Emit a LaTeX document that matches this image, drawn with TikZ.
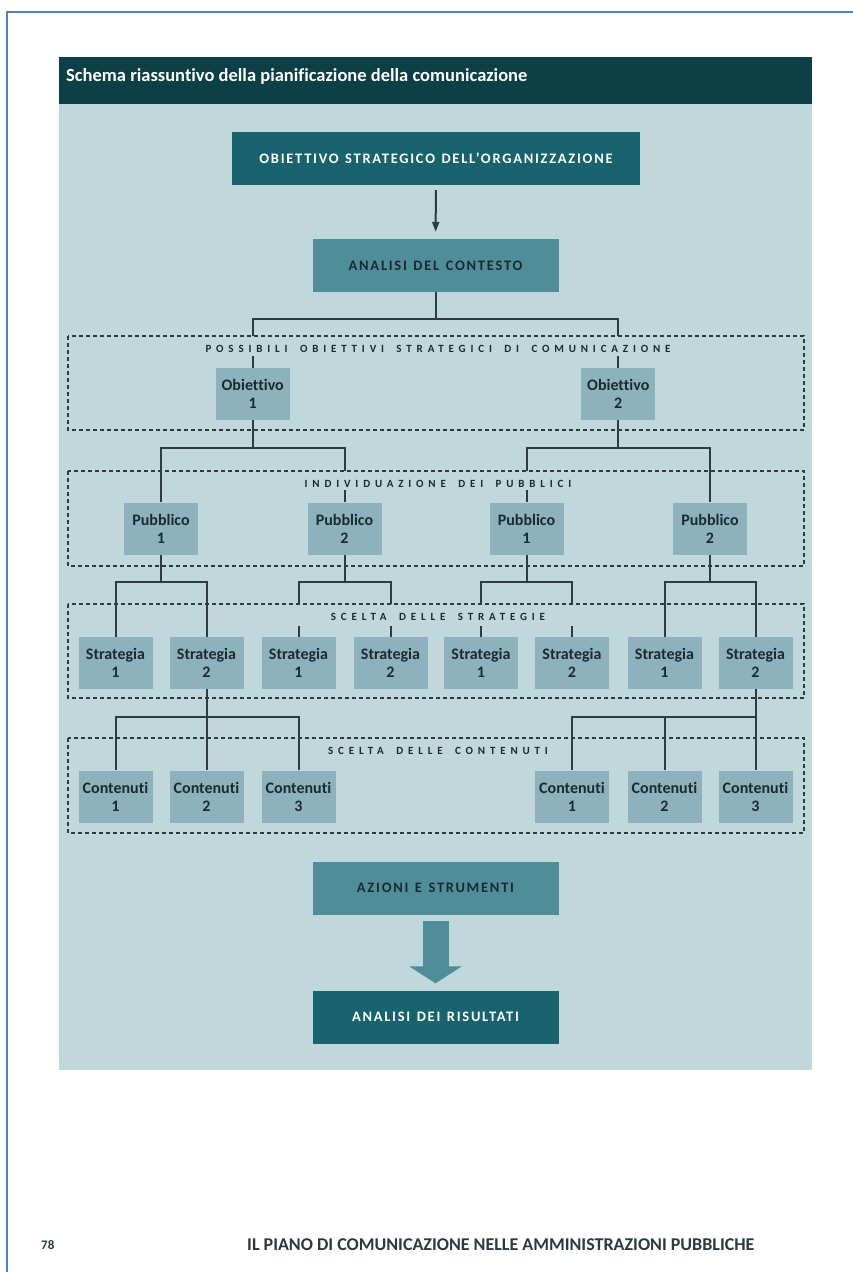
\documentclass[tikz,border=0pt]{standalone}
\usepackage{fontspec}
\setmainfont{Carlito}[Ligatures=NoCommon]
\newfontfamily\boxspaced[LetterSpace=12,WordSpace=1.3]{Carlito}
\newfontfamily\grpspaced[LetterSpace=44,WordSpace=1.7]{Carlito}
\usetikzlibrary{arrows.meta}
\definecolor{framec}{HTML}{4F81BD}
\definecolor{headc}{HTML}{0C3F46}
\definecolor{panelc}{HTML}{C0D7DC}
\definecolor{darkc}{HTML}{18636E}
\definecolor{medc}{HTML}{4F8D98}
\definecolor{smallc}{HTML}{8DB2BD}
\definecolor{txtc}{HTML}{1A2B30}
\definecolor{linec}{HTML}{2F3B40}
\definecolor{footc}{HTML}{2A3A40}
\begin{document}
\begin{tikzpicture}[x=1pt,y=-1pt,
  darkbox/.style={fill=darkc, text=white, inner sep=0pt, minimum width=408pt, minimum height=53pt, font=\boxspaced\bfseries\fontsize{14.5}{16}\selectfont},
  medbox/.style={fill=medc, text=txtc, inner sep=0pt, minimum width=246pt, minimum height=53pt, font=\boxspaced\bfseries\fontsize{14.5}{16}\selectfont},
  smallbox/.style={fill=smallc, text=txtc, inner sep=0pt, minimum width=74pt, minimum height=52pt, align=center, font=\bfseries\fontsize{16}{18}\selectfont},
  grplabel/.style={text=txtc, inner sep=0pt, font=\grpspaced\bfseries\fontsize{11}{12}\selectfont},
  dashbox/.style={draw=linec, line width=2pt, dash pattern=on 4pt off 3pt},
  conn/.style={draw=linec, line width=2pt},
  bigarr/.style={draw=medc, line width=26pt, -{Triangle[width=52pt,length=17pt]}},
]
\useasboundingbox (0,0) rectangle (853,1272);
\fill[white] (0,0) rectangle (853,1272);
\draw[framec, line width=2pt] (7,1272) -- (7,12) -- (853,12);
% panel
\fill[headc] (59,57) rectangle (812,104);
\fill[panelc] (59,104) rectangle (812,1070);
\node[anchor=west, text=white, inner sep=0pt, font=\bfseries\fontsize{18.5}{21}\selectfont] (title) at (66,76) {Schema riassuntivo della pianificazione della comunicazione};

% main boxes
\node[darkbox] (obs) at (436,158.5) {OBIETTIVO STRATEGICO DELL’ORGANIZZAZIONE};
\node[medbox] (ana) at (435.5,265.5) {ANALISI DEL CONTESTO};
\draw[conn, -{Triangle[width=7pt,length=10pt]}, shorten <=5pt, shorten >=7pt] (obs) -- (ana);

% reference heights
\coordinate (hA) at (0,319);
\coordinate (hB) at (0,448);
\coordinate (hC) at (0,582);
\coordinate (hD) at (0,717);
\coordinate (t1) at (0,336);
\coordinate (t2) at (0,471);
\coordinate (t3) at (0,604);
\coordinate (t4) at (0,738);

% dashed group frames
\draw[dashbox] (68,336) rectangle (804,430);
\draw[dashbox] (68,471) rectangle (804,566);
\draw[dashbox] (68,604) rectangle (804,698);
\draw[dashbox] (68,738) rectangle (804,833);
\node[grplabel] (g1) at (438,349) {POSSIBILI OBIETTIVI STRATEGICI DI COMUNICAZIONE};
\node[grplabel] (g2) at (438,484) {INDIVIDUAZIONE DEI PUBBLICI};
\node[grplabel] (g3) at (438,617) {SCELTA DELLE STRATEGIE};
\node[grplabel] (g4) at (438,751) {SCELTA DELLE CONTENUTI};

% obiettivi
\node[smallbox] (ob1) at (252.75,394) {Obiettivo\\1};
\node[smallbox] (ob2) at (618.25,394) {Obiettivo\\2};
% pubblici
\node[smallbox] (p1) at (161,528.5) {Pubblico\\1};
\node[smallbox] (p2) at (344.5,528.5) {Pubblico\\2};
\node[smallbox] (p3) at (526.5,528.5) {Pubblico\\1};
\node[smallbox] (p4) at (710,528.5) {Pubblico\\2};
% strategie
\node[smallbox] (s1) at (115.5,663) {Strategia\\1};
\node[smallbox] (s2) at (206.5,663) {Strategia\\2};
\node[smallbox] (s3) at (298.5,663) {Strategia\\1};
\node[smallbox] (s4) at (390.5,663) {Strategia\\2};
\node[smallbox] (s5) at (481,663) {Strategia\\1};
\node[smallbox] (s6) at (572,663) {Strategia\\2};
\node[smallbox] (s7) at (664.5,663) {Strategia\\1};
\node[smallbox] (s8) at (755.5,663) {Strategia\\2};
% contenuti
\node[smallbox] (c1) at (115.5,796.5) {Contenuti\\1};
\node[smallbox] (c2) at (206.5,796.5) {Contenuti\\2};
\node[smallbox] (c3) at (298.5,796.5) {Contenuti\\3};
\node[smallbox] (c4) at (572,796.5) {Contenuti\\1};
\node[smallbox] (c5) at (664.5,796.5) {Contenuti\\2};
\node[smallbox] (c6) at (755.5,796.5) {Contenuti\\3};

% tree: analisi -> obiettivi
\draw[conn] (ana.south) -- (ana.south |- hA);
\draw[conn] (ob1.north |- t1) |- (ana.south |- hA) -| (ob2.north |- t1);
\draw[conn] (ob1.north) -- ++(0,-12);
\draw[conn] (ob2.north) -- ++(0,-12);
% obiettivi -> pubblici
\draw[conn] (ob1.south) -- (ob1.south |- hB);
\draw[conn] (p1.north) |- (ob1.south |- hB) -| (p2.north |- t2);
\draw[conn] (p2.north) -- ++(0,-12);
\draw[conn] (ob2.south) -- (ob2.south |- hB);
\draw[conn] (p3.north |- t2) |- (ob2.south |- hB) -| (p4.north);
\draw[conn] (p3.north) -- ++(0,-12);
% pubblici -> strategie
\draw[conn] (p1.south) -- (p1.south |- hC);
\draw[conn] (s1.north) |- (p1.south |- hC) -| (s2.north);
\draw[conn] (p2.south) -- (p2.south |- hC);
\draw[conn] (s3.north |- t3) |- (p2.south |- hC) -| (s4.north |- t3);
\draw[conn] (s3.north) -- ++(0,-11);
\draw[conn] (s4.north) -- ++(0,-11);
\draw[conn] (p3.south) -- (p3.south |- hC);
\draw[conn] (s5.north |- t3) |- (p3.south |- hC) -| (s6.north |- t3);
\draw[conn] (s5.north) -- ++(0,-11);
\draw[conn] (s6.north) -- ++(0,-11);
\draw[conn] (p4.south) -- (p4.south |- hC);
\draw[conn] (s7.north) |- (p4.south |- hC) -| (s8.north);
% strategie -> contenuti
\draw[conn] (s2.south) -- (c2.north);
\draw[conn] (c1.north) |- (s2.south |- hD) -| (c3.north);
\draw[conn] (s8.south) -- (c6.north);
\draw[conn] (c4.north) |- (s8.south |- hD) -| (c6.north);
\draw[conn] (c5.north) -- (c5.north |- hD);

% final boxes
\node[medbox] (az) at (435.5,888) {AZIONI E STRUMENTI};
\node[darkbox, minimum width=246pt] (ris) at (435.5,1017) {ANALISI DEI RISULTATI};
\draw[bigarr, shorten <=6pt, shorten >=7pt] (az) -- (ris);

% footer
\node[anchor=west, inner sep=0pt, text=footc, font=\bfseries\fontsize{13}{15}\selectfont] (pg) at (41,1245) {78};
\node[anchor=west, inner sep=0pt, text=footc, font=\bfseries\fontsize{18}{20}\selectfont] (ft) at (247,1245) {IL PIANO DI COMUNICAZIONE NELLE AMMINISTRAZIONI PUBBLICHE};
\end{tikzpicture}
\end{document}
